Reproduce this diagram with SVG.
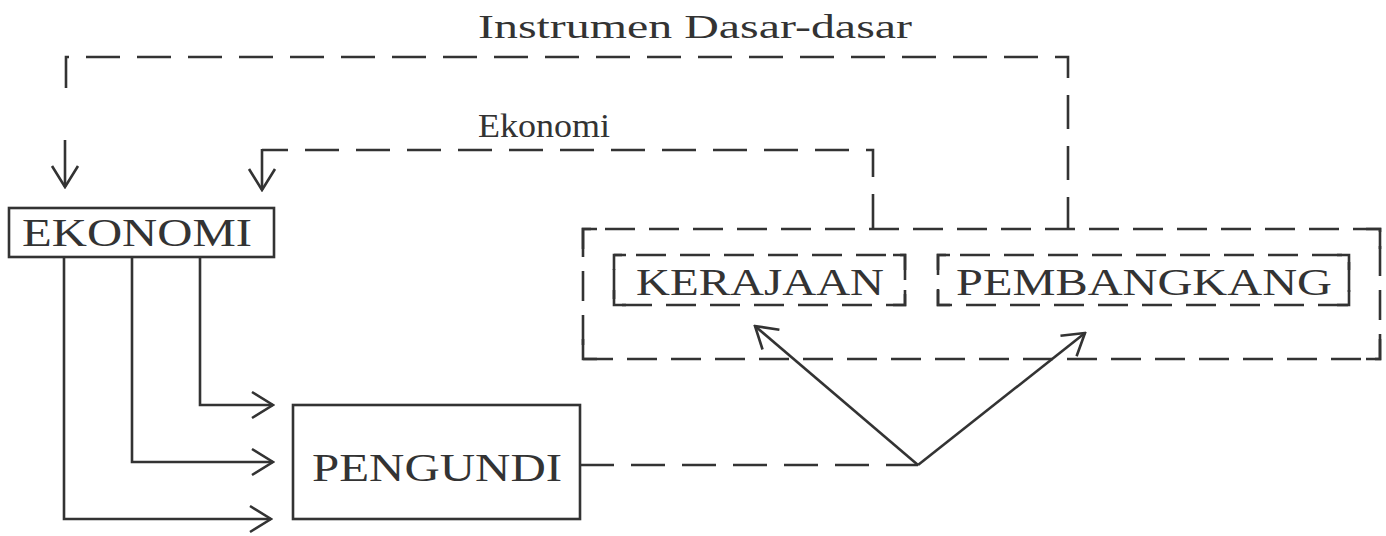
<svg xmlns="http://www.w3.org/2000/svg" width="1386" height="536" viewBox="0 0 1386 536">
<defs>
<marker id="ah" viewBox="0 0 26 30" refX="24" refY="15" markerWidth="26" markerHeight="30" markerUnits="userSpaceOnUse" orient="auto">
<path d="M3,2 L24,15 L3,28" fill="none" stroke="#333" stroke-width="2.6" stroke-linejoin="miter"/>
</marker>
</defs>
<style>
.t{font-family:"Liberation Serif","Times New Roman",serif;fill:#333;}
.solid{fill:none;stroke:#333;stroke-width:2.6;}
.dash{fill:none;stroke:#333;stroke-width:2.6;stroke-dasharray:34 17;}
.box{fill:#fff;stroke:#333;stroke-width:2.6;}
.dbox{fill:none;stroke:#333;stroke-width:2.6;stroke-dasharray:30 14;stroke-dashoffset:-22;}
.corner{fill:none;stroke:#333;stroke-width:2.6;}
</style>
<rect width="1386" height="536" fill="#fff"/>
<g id="labels">
<text class="t" x="478" y="38" font-size="34" textLength="434" lengthAdjust="spacingAndGlyphs">Instrumen Dasar-dasar</text>
<text class="t" x="478" y="137" font-size="34" textLength="132" lengthAdjust="spacingAndGlyphs">Ekonomi</text>
</g>
<g id="connectors">
<path class="dash" d="M66,88 V57 H1068 V228"/>
<path class="solid" d="M65,140 V187" marker-end="url(#ah)"/>
<path class="dash" d="M873,228 V150 H262"/>
<path class="solid" d="M262,149 V190" marker-end="url(#ah)"/>
<path class="solid" d="M200,257 V405 H273" marker-end="url(#ah)"/>
<path class="solid" d="M132,257 V462 H273" marker-end="url(#ah)"/>
<path class="solid" d="M64,257 V519 H271" marker-end="url(#ah)"/>
<path class="dash" d="M580,465 H918" stroke-dasharray="0 0 20 0 34 17 34 17 34 17 34 17 34 17"/>
<path class="solid" d="M918,465 L755,326" marker-end="url(#ah)"/>
<path class="solid" d="M918,465 L1085,333" marker-end="url(#ah)"/>
</g>
<g id="node-ekonomi">
<rect class="box" x="9" y="208" width="265" height="49"/>
<text class="t" x="22" y="246" font-size="40" textLength="230" lengthAdjust="spacingAndGlyphs">EKONOMI</text>
</g>
<g id="node-pengundi">
<rect class="box" x="293" y="405" width="287" height="114"/>
<text class="t" x="312" y="481" font-size="41" textLength="250" lengthAdjust="spacingAndGlyphs">PENGUNDI</text>
</g>
<g id="node-group">
<rect class="dbox" x="583" y="229" width="797" height="130"/>
<path class="corner" d="M583,249 V229 H597 M1366,229 H1380 V249 M583,339 V359 H597 M1366,359 H1380 V339"/>
</g>
<g id="node-kerajaan">
<rect class="dbox" x="614" y="255" width="291" height="50"/>
<path class="corner" d="M614,270 V255 H626 M893,255 H905 V270 M614,290 V305 H626 M893,305 H905 V290"/>
<text class="t" x="636" y="295" font-size="38" textLength="248" lengthAdjust="spacingAndGlyphs">KERAJAAN</text>
</g>
<g id="node-pembangkang">
<rect class="dbox" x="938" y="255" width="411" height="50"/>
<path class="corner" d="M938,270 V255 H950 M1337,255 H1349 V270 M938,290 V305 H950 M1337,305 H1349 V290"/>
<text class="t" x="956" y="295" font-size="38" textLength="376" lengthAdjust="spacingAndGlyphs">PEMBANGKANG</text>
</g>
</svg>
